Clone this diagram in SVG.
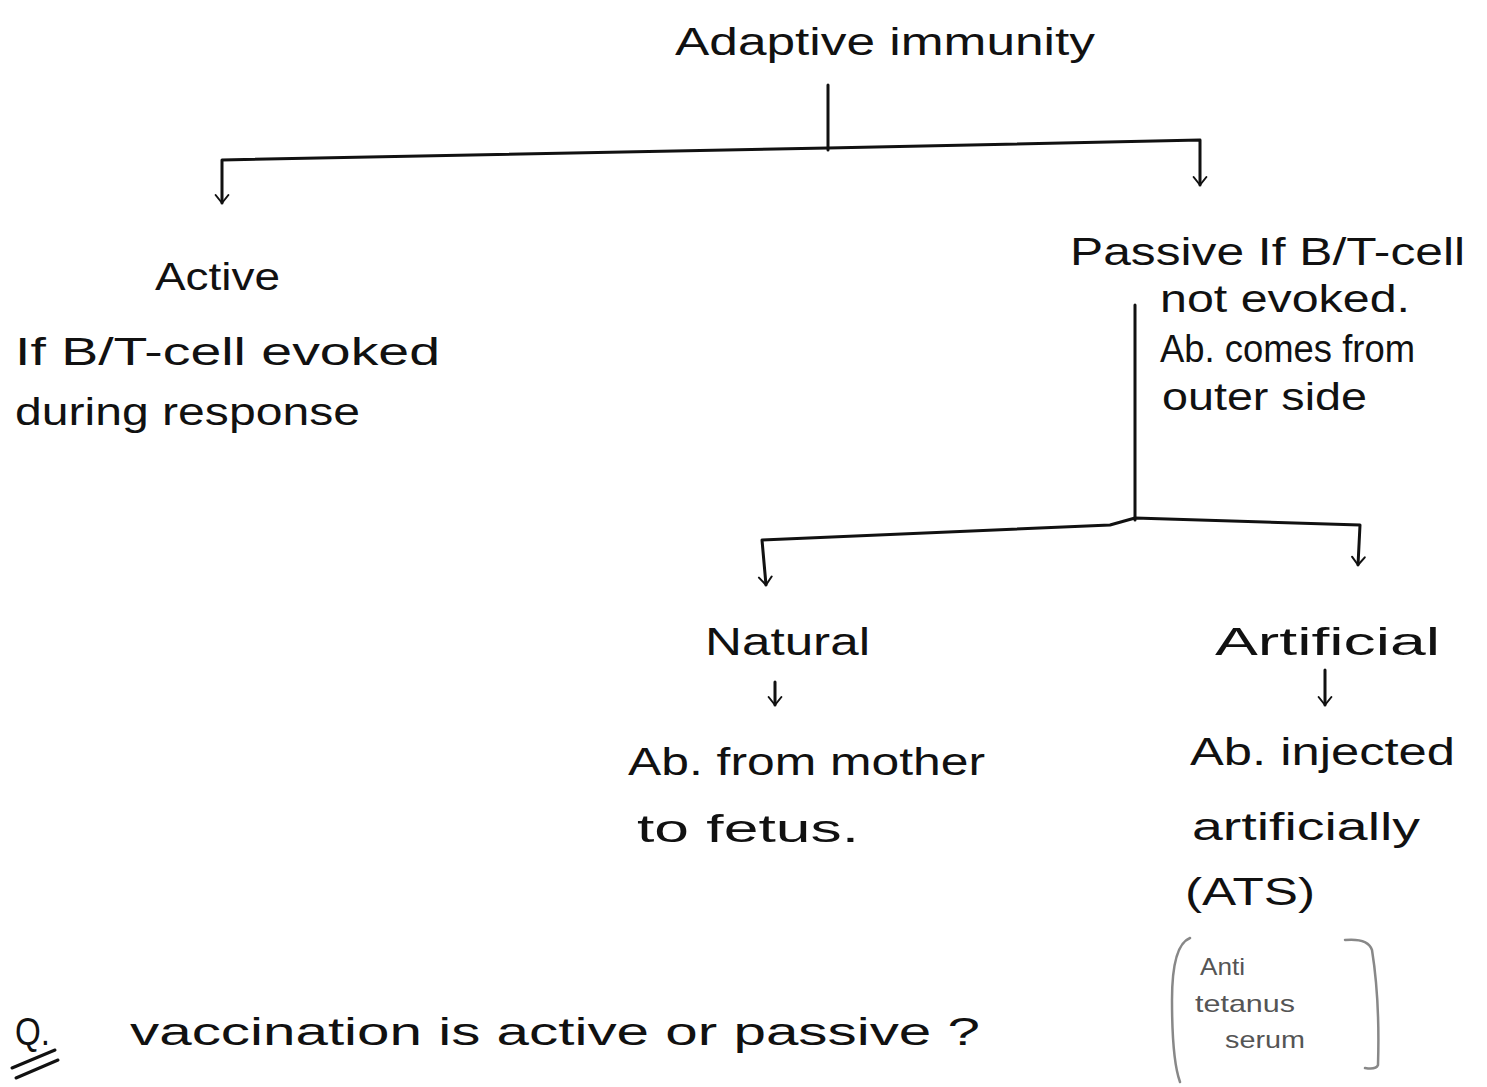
<svg xmlns="http://www.w3.org/2000/svg" width="1487" height="1087" viewBox="0 0 1487 1087">
<style>
text{font-family:"Liberation Sans","DejaVu Sans",sans-serif;fill:#111;font-size:38px}
.s{font-size:24px;fill:#555}
.ln{fill:none;stroke:#111;stroke-width:3;stroke-linecap:round;stroke-linejoin:round}
.lt{fill:none;stroke:#888;stroke-width:2.5;stroke-linecap:round}
</style>
<defs>
<marker id="v" viewBox="0 0 20 20" refX="18" refY="10" markerWidth="16" markerHeight="16" markerUnits="userSpaceOnUse" orient="auto-start-reverse">
<path d="M8 2 L18 10 L8 18" fill="none" stroke="#111" stroke-width="2.5" stroke-linecap="round" stroke-linejoin="round"/>
</marker>
</defs>
<rect width="1487" height="1087" fill="#fff"/>
<g id="connectors">
<path class="ln" d="M828 85 L828 150"/>
<path class="ln" d="M222 203 L222 160 L828 148 L1200 140 L1200 185" marker-start="url(#v)" marker-end="url(#v)"/>
<path class="ln" d="M1135 305 L1135 520"/>
<path class="ln" d="M766 585 L762 540 L1110 525 L1135 518 L1360 525 L1358 565" marker-start="url(#v)" marker-end="url(#v)"/>
<path class="ln" d="M775 682 L775 705" marker-end="url(#v)"/>
<path class="ln" d="M1325 670 L1325 705" marker-end="url(#v)"/>
</g>
<g id="root"><text x="675" y="55" font-size="40" textLength="420" lengthAdjust="spacingAndGlyphs">Adaptive immunity</text></g>
<g id="active">
<text x="155" y="290" textLength="125" lengthAdjust="spacingAndGlyphs">Active</text>
<text x="15" y="365" textLength="425" lengthAdjust="spacingAndGlyphs">If B/T-cell evoked</text>
<text x="15" y="425" textLength="345" lengthAdjust="spacingAndGlyphs">during response</text>
</g>
<g id="passive">
<text x="1070" y="265" textLength="395" lengthAdjust="spacingAndGlyphs">Passive If B/T-cell</text>
<text x="1160" y="312" textLength="250" lengthAdjust="spacingAndGlyphs">not evoked.</text>
<text x="1160" y="362" textLength="255" lengthAdjust="spacingAndGlyphs">Ab. comes from</text>
<text x="1162" y="410" textLength="205" lengthAdjust="spacingAndGlyphs">outer side</text>
</g>
<g id="natural">
<text x="705" y="655" textLength="165" lengthAdjust="spacingAndGlyphs">Natural</text>
<text x="628" y="775" textLength="357" lengthAdjust="spacingAndGlyphs">Ab. from mother</text>
<text x="637" y="842" textLength="222" lengthAdjust="spacingAndGlyphs">to fetus.</text>
</g>
<g id="artificial">
<text x="1215" y="655" textLength="225" lengthAdjust="spacingAndGlyphs">Artificial</text>
<text x="1190" y="765" textLength="265" lengthAdjust="spacingAndGlyphs">Ab. injected</text>
<text x="1192" y="840" textLength="228" lengthAdjust="spacingAndGlyphs">artificially</text>
<text x="1185" y="905" textLength="130" lengthAdjust="spacingAndGlyphs">(ATS)</text>
</g>
<g id="ats-note">
<path class="lt" d="M1190 938 Q1172 945 1172 1000 Q1172 1060 1180 1082"/>
<path class="lt" d="M1345 940 Q1368 938 1372 950 Q1380 1000 1378 1065 Q1376 1070 1365 1068"/>
<text class="s" x="1200" y="975" textLength="45" lengthAdjust="spacingAndGlyphs">Anti</text>
<text class="s" x="1195" y="1012" textLength="100" lengthAdjust="spacingAndGlyphs">tetanus</text>
<text class="s" x="1225" y="1048" textLength="80" lengthAdjust="spacingAndGlyphs">serum</text>
</g>
<g id="question">
<text x="15" y="1045" font-size="32" textLength="35" lengthAdjust="spacingAndGlyphs">Q.</text>
<path class="ln" d="M12 1068 L55 1050 M16 1078 L58 1060"/>
<text x="130" y="1045" textLength="850" lengthAdjust="spacingAndGlyphs">vaccination is active or passive ?</text>
</g>
</svg>
